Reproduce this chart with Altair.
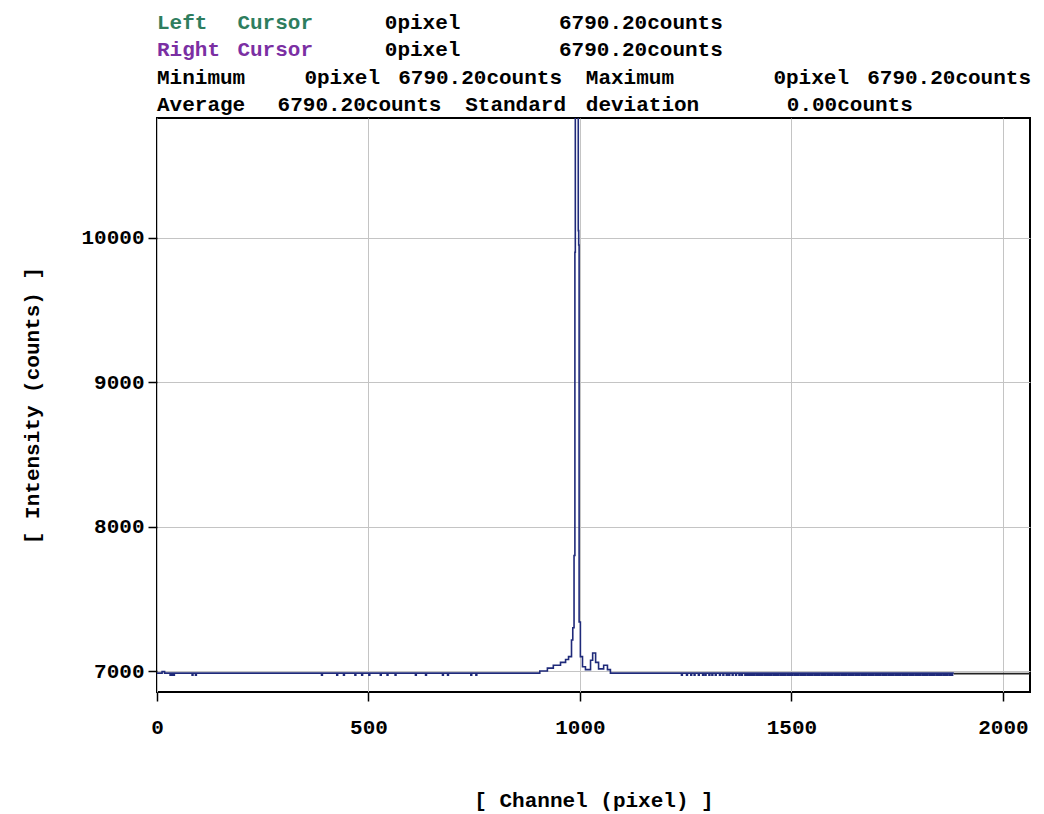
import altair as alt
import pandas as pd

FONT = "Liberation Mono"
FS = 21
NAVY = "#1f2a7a"

# ---- spectrum ----
base_level = 6986
dip_level = 6972
# channels where the baseline shows short downward dips
dip_channels = [31, 35, 39, 83, 91, 389, 425, 441, 468, 484, 501, 528, 544, 563,
                611, 635, 675, 687, 742, 754,
                1240, 1252, 1262, 1270, 1280, 1290, 1296, 1305, 1312, 1320, 1330,
                1338, 1346, 1352, 1360, 1368, 1376, 1382, 1390, 1395, 1400, 1405,
                1410, 1416, 1421, 1426, 1431, 1437, 1442, 1447, 1452, 1458, 1463,
                1468, 1474, 1479, 1484, 1490, 1495, 1500, 1506, 1511, 1516, 1522,
                1527, 1532, 1538, 1543, 1548, 1554, 1559, 1564, 1570, 1575, 1580,
                1586, 1591, 1596, 1602, 1607, 1612, 1618, 1623, 1628, 1634, 1639,
                1644, 1650, 1655, 1660, 1666, 1671, 1676, 1682, 1687, 1692, 1698,
                1703, 1708, 1714, 1719, 1724, 1730, 1735, 1740, 1746, 1751, 1756,
                1762, 1767, 1772, 1778, 1783, 1788, 1794, 1799, 1804, 1810, 1815,
                1820, 1826, 1831, 1836, 1842, 1847, 1852, 1858, 1863, 1868, 1874, 1879]
# peak region
peak_channels = [895, 905, 923, 937, 954, 966, 973, 980, 983, 986, 988, 989, 996,
                 997, 998, 1001, 1006, 1013, 1025, 1030, 1037, 1044, 1056, 1065, 1072]
peak_counts = [6986, 7000, 7020, 7040, 7060, 7080, 7100, 7215, 7300, 7800, 9900,
               11500, 10050, 9950, 7340, 7100, 7030, 7010, 7075, 7125, 7060, 7015,
               7040, 7010, 6986]
start_channels = [0, 12, 18]
start_counts = [6986, 6996, 6986]
end_channel = 1884
tail_channels = [1884, 2064]
tail_counts = [6982, 6982]

rows = []
for c, v in zip(start_channels, start_counts):
    rows.append((c, v))
for d in dip_channels:
    rows.append((d, dip_level))
    rows.append((d + 2, base_level))
for c, v in zip(peak_channels, peak_counts):
    rows.append((c, v))
rows.append((end_channel, base_level))
spec = pd.DataFrame(sorted(rows), columns=["channel", "counts"])
tail = pd.DataFrame({"channel": tail_channels, "counts": tail_counts})

x_ticks = [0, 500, 1000, 1500, 2000]
y_ticks = [7000, 8000, 9000, 10000]
x_domain = [0, 2064]
y_domain = [6855, 10830]

W, H = 873, 574

xs = alt.Scale(domain=x_domain, nice=False, zero=False)
ys = alt.Scale(domain=y_domain, nice=False, zero=False)

line = alt.Chart(spec).mark_line(interpolate="step-after", color=NAVY,
                                 strokeWidth=1.6, clip=True).encode(
    x=alt.X("channel:Q", scale=xs,
            axis=alt.Axis(values=x_ticks, format="d", title="[ Channel (pixel) ]",
                          titleX=W / 2, titleY=108, titleBaseline="middle",
                          titleAlign="center", labelPadding=15, labelFlush=False)),
    y=alt.Y("counts:Q", scale=ys,
            axis=alt.Axis(values=y_ticks, format="d", title="[ Intensity (counts) ]",
                          titleX=-125, titleY=H / 2, titleAngle=-90,
                          titleBaseline="middle", titleAlign="center",
                          labelPadding=4, labelFlush=False)),
)

tail_line = alt.Chart(tail).mark_line(color="#222222", strokeWidth=1.6, clip=True).encode(
    x=alt.X("channel:Q", scale=xs), y=alt.Y("counts:Q", scale=ys))

# ---- header text ----
CW = 13.4
header = [
    ("Left", 0, 0, "#2e7d5e"), ("Cursor", 6, 0, "#2e7d5e"), ("0pixel", 17, 0, "black"),
    ("6790.20counts", 30, 0, "black"),
    ("Right", 0, 1, "#7b2fa3"), ("Cursor", 6, 1, "#7b2fa3"), ("0pixel", 17, 1, "black"),
    ("6790.20counts", 30, 1, "black"),
    ("Minimum", 0, 2, "black"), ("0pixel", 11, 2, "black"), ("6790.20counts", 18, 2, "black"),
    ("Maximum", 32, 2, "black"), ("0pixel", 46, 2, "black"), ("6790.20counts", 53, 2, "black"),
    ("Average", 0, 3, "black"), ("6790.20counts", 9, 3, "black"),
    ("Standard", 23, 3, "black"), ("deviation", 32, 3, "black"), ("0.00counts", 47, 3, "black"),
]
row_y = [-95, -68, -40, -13]

layers = [line, tail_line]
for txt, col, r, colr in header:
    layers.append(
        alt.Chart(pd.DataFrame({"t": [txt]})).mark_text(
            align="left", baseline="middle", font=FONT, fontSize=FS,
            fontWeight="bold", color=colr).encode(
            x=alt.value(col * CW), y=alt.value(row_y[r]), text="t:N")
    )

chart = alt.layer(*layers).properties(
    width=W, height=H,
    background="white",
    autosize=alt.AutoSizeParams(type="none"),
    padding={"left": 157, "top": 118, "right": 14, "bottom": 122},
).configure_view(
    stroke="black", strokeWidth=2
).configure_axis(
    grid=True, gridColor="#c4c4c4", gridWidth=1,
    domain=False, ticks=True, tickColor="black", tickWidth=1.5, tickSize=9,
    labelFont=FONT, labelFontSize=FS, labelFontWeight="bold", labelColor="black",
    titleFont=FONT, titleFontSize=FS, titleFontWeight="bold", titleColor="black",
)

chart.save("out.html", embed_options={"renderer": "svg", "actions": False})
